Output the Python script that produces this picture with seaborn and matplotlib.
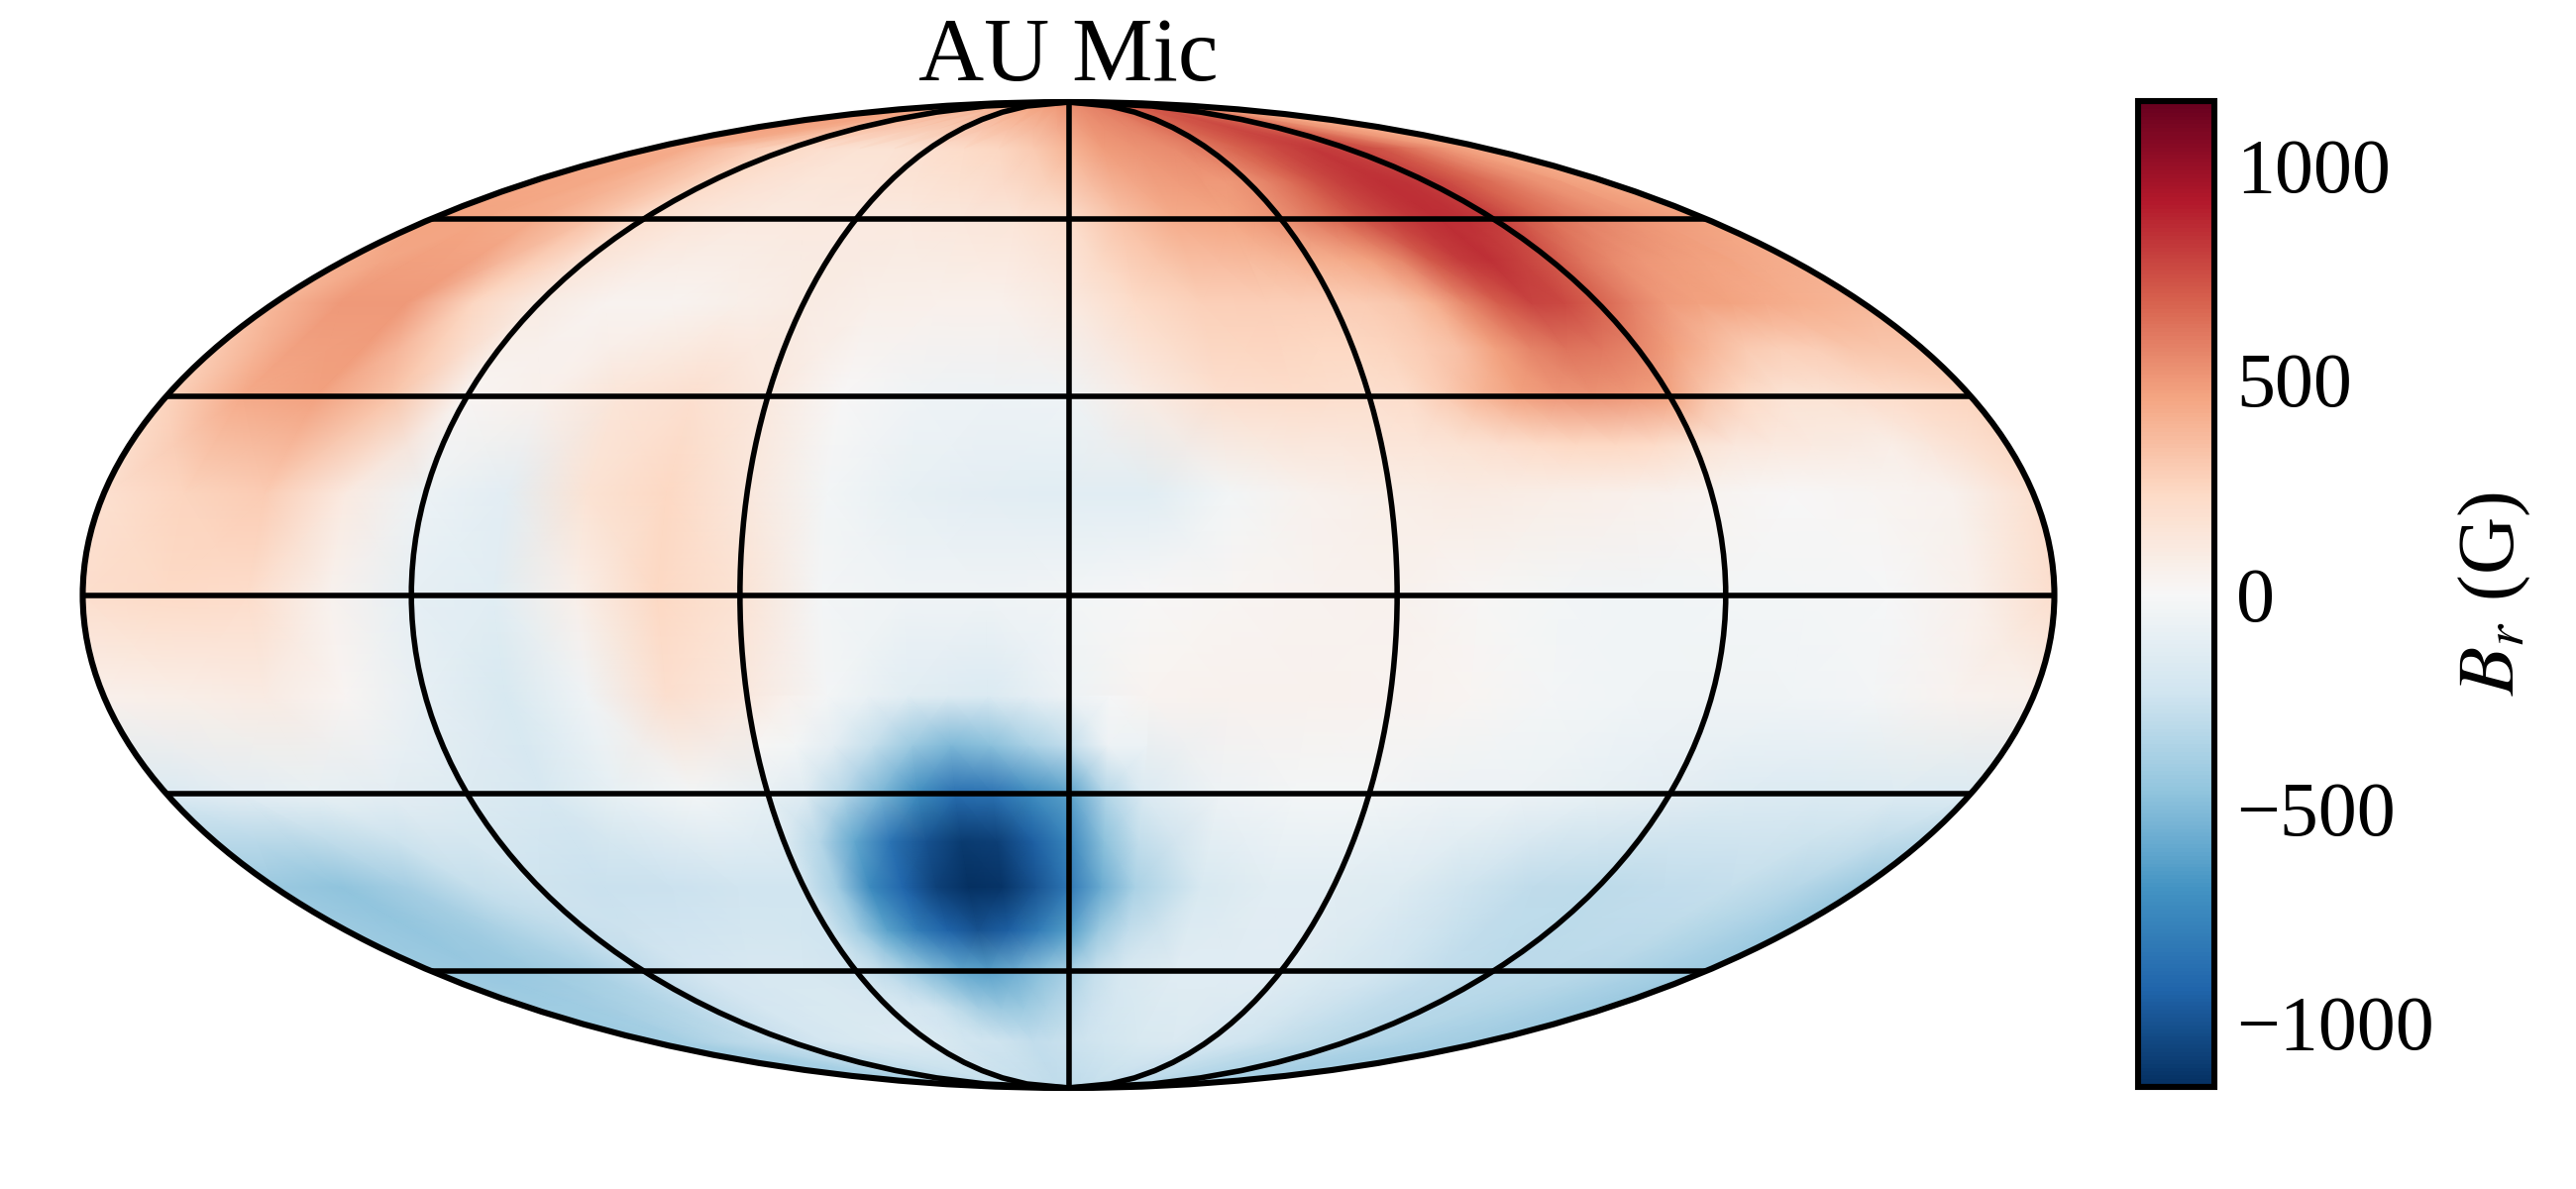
import numpy as np
import seaborn as sns
import matplotlib.pyplot as plt
from matplotlib.colors import Normalize
from matplotlib.cm import ScalarMappable
from matplotlib.ticker import FixedLocator, NullFormatter

# longitude in degrees, -180 to 180
lons = np.arange(-180, 181, 15)
lats = [-90, -87, -75, -60, -45, -30, -15, 0, 15, 30, 45, 60, 75, 87, 90]

# radial field in gauss, one list per latitude
b_m90 = [-300] * 25
b_m87 = [-370, -360, -340, -320, -300, -280, -270, -270, -270, -270, -280, -290, -290,
         -280, -270, -270, -280, -300, -310, -330, -340, -350, -360, -370, -370]
b_m75 = [-410, -380, -330, -290, -250, -200, -180, -170, -170, -220, -240, -280, -260,
         -220, -180, -170, -200, -230, -270, -300, -330, -350, -370, -390, -410]
b_m60 = [-420, -440, -420, -370, -280, -210, -190, -190, -230, -400, -600, -560, -380,
         -190, -140, -140, -140, -180, -230, -280, -310, -310, -330, -370, -420]
b_m45 = [-430, -460, -390, -270, -240, -260, -250, -230, -230, -730, -1070, -1130, -830,
         -370, -180, -130, -130, -160, -240, -290, -300, -280, -270, -330, -430]
b_m30 = [-170, -120, -90, -120, -160, -190, -90, -30, -90, -330, -720, -860, -620,
         -170, -60, -30, -30, -60, -70, -90, -120, -160, -170, -160, -170]
b_m15 = [60, 80, 90, 20, -100, -180, -50, 190, 120, -20, -130, -170, -60,
         30, 50, 50, 40, 20, -20, -40, -50, -40, -20, 40, 60]
b_0 = [200, 230, 210, 50, -100, -130, 70, 240, 170, -20, -50, -50, -30,
       0, 20, 40, 50, 10, -30, -40, -30, -20, -10, 60, 200]
b_p15 = [180, 260, 290, 100, -70, -120, 170, 240, 130, -30, -90, -120, -130,
         -130, -30, 50, 80, 90, 80, 60, 30, 0, 20, 50, 180]
b_p30 = [260, 440, 470, 330, 20, 60, 150, 190, 110, 0, -50, -60, -50,
         90, 190, 210, 190, 290, 470, 520, 460, 230, 170, 210, 260]
b_p45 = [380, 500, 500, 250, 90, 40, 30, 70, 90, 70, 60, 60, 100,
         220, 270, 280, 280, 320, 560, 780, 680, 500, 460, 420, 380]
b_p60 = [460, 450, 430, 340, 180, 140, 110, 110, 100, 110, 130, 150, 200,
         340, 430, 450, 530, 650, 780, 850, 800, 650, 560, 500, 460]
b_p75 = [440, 430, 350, 280, 230, 190, 170, 170, 190, 220, 250, 300, 390,
         490, 520, 540, 610, 690, 760, 810, 780, 720, 600, 490, 440]
b_p87 = [470, 460, 450, 430, 410, 400, 400, 410, 430, 450, 470, 490, 520,
         540, 570, 600, 640, 680, 700, 710, 680, 640, 590, 530, 470]
b_p90 = [550] * 25

# finer readings over the dark southern spot
spot_lons = np.arange(-60, 15.1, 7.5)
spot_lats = [-75, -67.5, -60, -52.5, -45, -37.5, -30, -22.5, -15]
spot_m75 = [-170, -195, -220, -230, -240, -260, -280, -270, -260, -240, -220]
spot_m67 = [-200, -200, -230, -300, -390, -430, -420, -360, -310, -250, -205]
spot_m60 = [-230, -290, -400, -510, -600, -620, -560, -470, -380, -270, -190]
spot_m52 = [-230, -400, -620, -800, -930, -1000, -950, -800, -640, -430, -280]
spot_m45 = [-230, -400, -730, -920, -1070, -1145, -1130, -1000, -830, -570, -370]
spot_m37 = [-160, -330, -600, -850, -1000, -1100, -1080, -950, -760, -470, -270]
spot_m30 = [-90, -150, -330, -530, -720, -880, -860, -730, -620, -340, -170]
spot_m22 = [15, -30, -120, -270, -430, -520, -480, -370, -280, -60, -70]
spot_m15 = [120, 50, -20, -75, -130, -150, -170, -115, -60, -15, 30]

# finer readings over the strong northern band
band_lons = np.arange(45, 165.1, 7.5)
band_lats = [15, 22.5, 30, 37.5, 45, 52.5, 60, 67.5, 75]
band_p15 = [50, 65, 80, 85, 90, 85, 80, 70, 60, 45, 30, 15, 0, 10, 20, 35, 50]
band_p22 = [130, 130, 140, 150, 170, 190, 220, 240, 240, 220, 170, 130, 110, 100, 90, 80, 130]
band_p30 = [210, 200, 190, 210, 290, 390, 470, 510, 520, 500, 460, 320, 230, 170, 170, 190, 210]
band_p37 = [245, 240, 240, 260, 290, 350, 470, 570, 620, 610, 560, 470, 380, 300, 270, 280, 315]
band_p45 = [280, 280, 280, 290, 320, 410, 560, 700, 780, 760, 680, 580, 500, 470, 460, 440, 420]
band_p52 = [365, 380, 410, 430, 470, 560, 710, 800, 840, 790, 720, 620, 550, 510, 490, 470, 460]
band_p60 = [450, 490, 530, 590, 650, 720, 780, 820, 850, 840, 800, 720, 650, 600, 560, 530, 500]
band_p67 = [495, 500, 530, 580, 650, 730, 790, 820, 840, 830, 800, 750, 690, 630, 570, 520, 495]
band_p75 = [540, 575, 610, 650, 690, 725, 760, 785, 810, 795, 780, 750, 720, 660, 600, 545, 490]

cbar_major = [-1000, -500, 0, 500, 1000]
cbar_minor = [-1100, -900, -800, -700, -600, -400, -300, -200, -100,
              100, 200, 300, 400, 600, 700, 800, 900, 1100]
B_MAX = 1150


def draw_mesh(ax, lon_deg, lat_deg, rows, cmap, norm):
    lon_grid, lat_grid = np.meshgrid(np.radians(lon_deg), np.radians(lat_deg))
    ax.pcolormesh(lon_grid, lat_grid, np.array(rows, dtype=float), cmap=cmap, norm=norm,
                  shading="gouraud", rasterized=True)


def main():
    sns.set_theme(style="white")
    plt.rcParams["font.family"] = ["Liberation Serif", "DejaVu Serif"]
    plt.rcParams["mathtext.fontset"] = "stix"

    field = np.array([b_m90, b_m87, b_m75, b_m60, b_m45, b_m30, b_m15, b_0,
                      b_p15, b_p30, b_p45, b_p60, b_p75, b_p87, b_p90], dtype=float)

    # wrap one column over each side so the mesh reaches past the ellipse edge
    field = np.c_[field[:, -2], field, field[:, 1]]
    lon_wrap = np.r_[lons[0] - 15, lons, lons[-1] + 15]

    cmap = sns.color_palette("RdBu_r", as_cmap=True)
    norm = Normalize(vmin=-B_MAX, vmax=B_MAX)

    fig = plt.figure(figsize=(13, 6))
    ax = fig.add_axes([83 / 2600, 102 / 1200, 1991 / 2600, 995 / 1200], projection="mollweide")
    draw_mesh(ax, lon_wrap, lats, field, cmap, norm)
    draw_mesh(ax, spot_lons, spot_lats,
              [spot_m75, spot_m67, spot_m60, spot_m52, spot_m45, spot_m37, spot_m30, spot_m22, spot_m15],
              cmap, norm)
    draw_mesh(ax, band_lons, band_lats,
              [band_p15, band_p22, band_p30, band_p37, band_p45, band_p52, band_p60, band_p67, band_p75],
              cmap, norm)

    ax.set_longitude_grid(60)
    ax.set_latitude_grid(30)
    ax.set_longitude_grid_ends(90)
    ax.set_axisbelow(False)
    ax.grid(True, color="black", linewidth=2.0, linestyle="-")
    ax.set_xticklabels([])
    ax.set_yticklabels([])
    for spine in ax.spines.values():
        spine.set_linewidth(2.2)
        spine.set_edgecolor("black")
    ax.set_title("AU Mic", fontsize=33, pad=8, color="black")

    cax = fig.add_axes([2158 / 2600, 103 / 1200, 77 / 2600, 995 / 1200])
    cbar = fig.colorbar(ScalarMappable(norm=norm, cmap=cmap), cax=cax)
    cbar.outline.set_linewidth(2.2)
    cbar.outline.set_edgecolor("black")
    cax.yaxis.set_major_locator(FixedLocator(cbar_major))
    cax.yaxis.set_minor_locator(FixedLocator(cbar_minor))
    cax.yaxis.set_minor_formatter(NullFormatter())
    cax.tick_params(axis="y", which="major", direction="in", length=10.8, width=1.8,
                    labelsize=28, pad=8, color="black", labelcolor="black", right=True)
    cax.tick_params(axis="y", which="minor", direction="in", length=5.4, width=1.8,
                    color="black", right=True)
    cbar.set_label(r"$B_r$ (G)", fontsize=29, color="black", labelpad=8)

    fig.savefig("out.png", dpi=200, facecolor="white")
    plt.close(fig)


if __name__ == "__main__":
    main()
